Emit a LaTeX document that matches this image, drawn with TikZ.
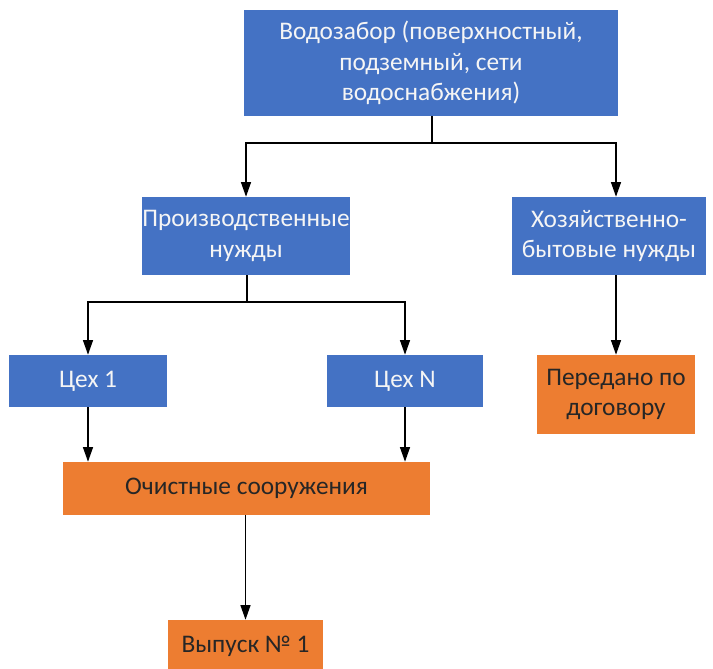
\documentclass[tikz,border=0pt]{standalone}
\usepackage{fontspec}
\setmainfont{Carlito}
\usetikzlibrary{arrows.meta}
\definecolor{boxblue}{HTML}{4472C4}
\definecolor{boxorange}{HTML}{ED7D31}
\begin{document}
\begin{tikzpicture}[x=0.75pt, y=-0.75pt,
        blue/.style = {fill=boxblue, text=white!96!black, align=center, inner sep=0pt, font=\fontsize{19}{23}\selectfont},
        orange/.style = {fill=boxorange, text=black!85, align=center, inner sep=0pt, font=\fontsize{19}{23}\selectfont},
        arr/.style = {line width=1pt, -{Triangle[width=7.5pt,length=11pt]}},
        line/.style = {line width=1pt}]
        \useasboundingbox (0,0) rectangle (713,668);

        \node[blue, minimum width=280.5pt, minimum height=79.5pt] (top) at (431,63) {Водозабор (поверхностный,\\подземный, сети\\водоснабжения)};
        \node[blue, minimum width=156pt, minimum height=58.5pt] (prod) at (246,236) {Производственные\\нужды};
        \node[blue, minimum width=145.5pt, minimum height=58.5pt] (hoz) at (609,236) {Хозяйственно-\\бытовые нужды};
        \node[blue, minimum width=118.5pt, minimum height=39pt] (c1) at (88,381) {Цех 1};
        \node[blue, minimum width=117pt, minimum height=39pt] (cn) at (405,381) {Цех N};
        \node[orange, minimum width=118.5pt, minimum height=59.25pt] (tr) at (616,394.5) {Передано по\\договору};
        \node[orange, minimum width=275.25pt, minimum height=39.75pt] (cl) at (246.5,488.5) {Очистные сооружения};
        \node[orange, minimum width=116.25pt, minimum height=39pt] (out) at (245.5,646) {Выпуск №~1};

        \coordinate (j1) at (432,143);
        \coordinate (j2) at (247,302);

        \draw[line] (top.south -| j1) -- (j1);
        \draw[arr] (j1) -| (prod);
        \draw[arr] (j1) -| (hoz.north -| tr.north);
        \draw[arr] (hoz.south -| tr.north) -- (tr);

        \draw[line] (prod.south -| j2) -- (j2);
        \draw[arr] (j2) -| (c1);
        \draw[arr] (j2) -| (cn);

        \draw[arr] (c1) -- (c1 |- cl.north);
        \draw[arr] (cn) -- (cn |- cl.north);
        \draw[arr] (cl.south -| out) -- (out);

    \end{tikzpicture}
\end{document}
